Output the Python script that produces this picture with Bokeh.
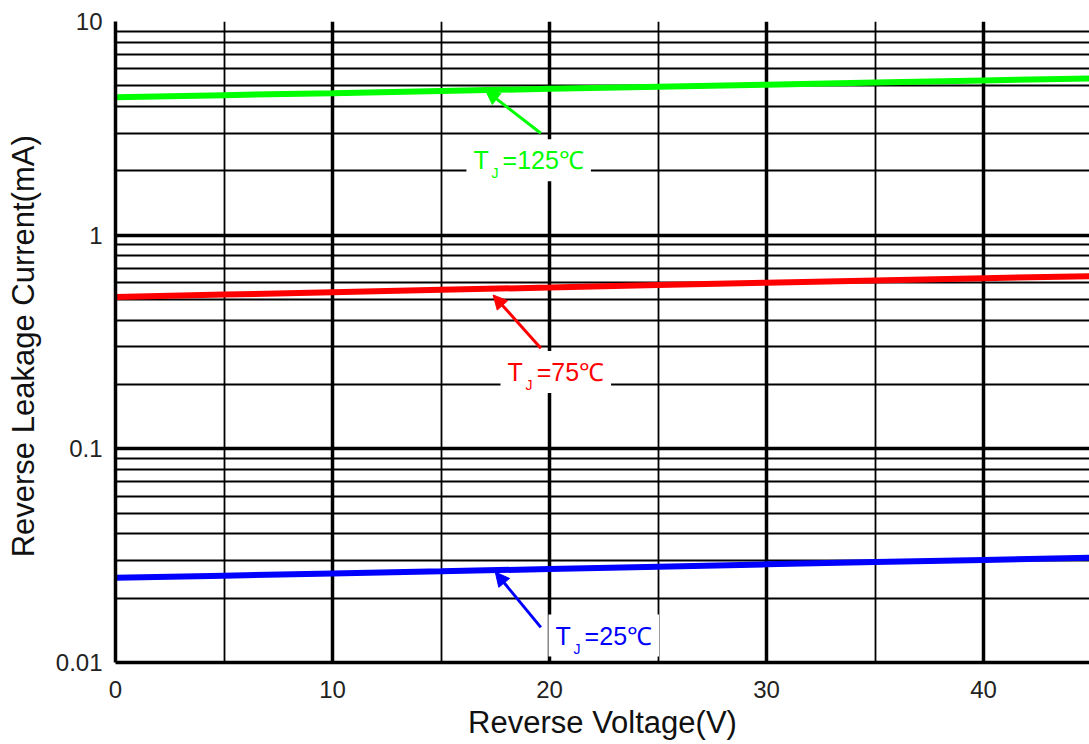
from bokeh.plotting import figure
from bokeh.models import Range1d, FixedTicker, Label, Arrow, NormalHead, ColumnDataSource
from bokeh.embed import file_html
from bokeh.resources import INLINE

# ---- data ----
voltage = [0, 5, 10, 15, 20, 25, 30, 35, 40, 45]
i_125 = [4.42, 4.52, 4.62, 4.73, 4.84, 4.95, 5.06, 5.18, 5.30, 5.42]
i_75 = [0.513, 0.527, 0.541, 0.555, 0.569, 0.584, 0.599, 0.614, 0.629, 0.643]
i_25 = [0.0249, 0.0255, 0.0261, 0.0267, 0.0274, 0.0281, 0.0288, 0.0295, 0.0302, 0.0309]

x_ticks = [0, 10, 20, 30, 40]
x_minor = [5, 15, 25, 35, 45]
y_ticks = [0.01, 0.1, 1, 10]
y_tick_labels = ["0.01", "0.1", "1", "10"]
y_minor = [k * 10.0 ** e for e in (-2, -1, 0) for k in range(2, 10)]

x_title = "Reverse Voltage(V)"
y_title = "Reverse Leakage  Current(mA)"

series_colors = ["#00FF00", "#FF0000", "#0000FF"]
label_texts = ["T\u00a0\u00a0=125\u2103", "T\u00a0\u00a0=75\u2103", "T\u00a0\u00a0=25\u2103"]
label_pos = [(16.17, 2.24), (17.74, 0.229), (19.95, 0.01336)]
arrow_start = [(19.6, 3.0), (19.6, 0.296), (19.6, 0.0146)]
arrow_end = [(17.05, 4.76), (17.4, 0.525), (17.5, 0.0265)]

FONT = "Liberation Sans"

p = figure(width=1089, height=744, output_backend="svg", toolbar_location=None,
           y_axis_type="log",
           x_range=Range1d(0, 44.88), y_range=Range1d(0.01, 10),
           min_border_left=115, min_border_right=0, min_border_top=21, min_border_bottom=82)
p.outline_line_color = None
p.background_fill_color = "white"
p.border_fill_color = "white"

xt = FixedTicker(ticks=x_ticks, minor_ticks=x_minor)
yt = FixedTicker(ticks=y_ticks, minor_ticks=y_minor)
p.xaxis.ticker = xt
p.yaxis.ticker = yt
p.xgrid.ticker = xt
p.ygrid.ticker = yt
p.yaxis.major_label_overrides = {t: s for t, s in zip(y_ticks, y_tick_labels)}

for g in (p.xgrid, p.ygrid):
    g.grid_line_color = "black"
    g.grid_line_width = 3.5
    g.grid_line_alpha = 1.0
    g.minor_grid_line_color = "black"
    g.minor_grid_line_width = 1.8

for ax in (p.xaxis, p.yaxis):
    ax.axis_line_color = "black"
    ax.axis_line_width = 3.5
    ax.major_tick_line_color = None
    ax.minor_tick_line_color = None
    ax.major_tick_out = 0
    ax.major_tick_in = 0
    ax.minor_tick_out = 0
    ax.minor_tick_in = 0
    ax.major_label_text_font = FONT
    ax.major_label_text_font_size = "24px"
    ax.major_label_text_color = "#222222"
    ax.axis_label_text_font = FONT
    ax.axis_label_text_font_style = "normal"
    ax.axis_label_text_color = "#111111"

p.xaxis.axis_label = x_title
p.xaxis.axis_label_text_font_size = "31px"
p.yaxis.axis_label = y_title
p.yaxis.axis_label_text_font_size = "31px"
p.xaxis.major_label_standoff = 18
p.xaxis.axis_label_standoff = 4
p.yaxis.major_label_standoff = 13
p.yaxis.axis_label_standoff = 12

src = ColumnDataSource(dict(v=voltage, a=i_125, b=i_75, c=i_25))
for col, color in zip(["a", "b", "c"], series_colors):
    p.line("v", col, source=src, line_color=color, line_width=6)

for txt, (lx, ly), (sx, sy), (ex, ey), color in zip(label_texts, label_pos, arrow_start, arrow_end, series_colors):
    p.add_layout(Arrow(end=NormalHead(size=14, fill_color=color, line_color=color),
                       x_start=sx, y_start=sy, x_end=ex, y_end=ey,
                       line_color=color, line_width=3))
    p.add_layout(Label(x=lx, y=ly, text=txt, text_font=FONT, text_font_size="25px",
                       text_color=color, text_align="left", text_baseline="middle",
                       background_fill_color="white", padding=7))
    p.add_layout(Label(x=lx, y=ly, text="J", text_font=FONT, text_font_size="14px",
                       text_color=color, text_align="left", text_baseline="middle",
                       x_offset=25, y_offset=-13))

open("out.html", "w").write(file_html(p, INLINE))
